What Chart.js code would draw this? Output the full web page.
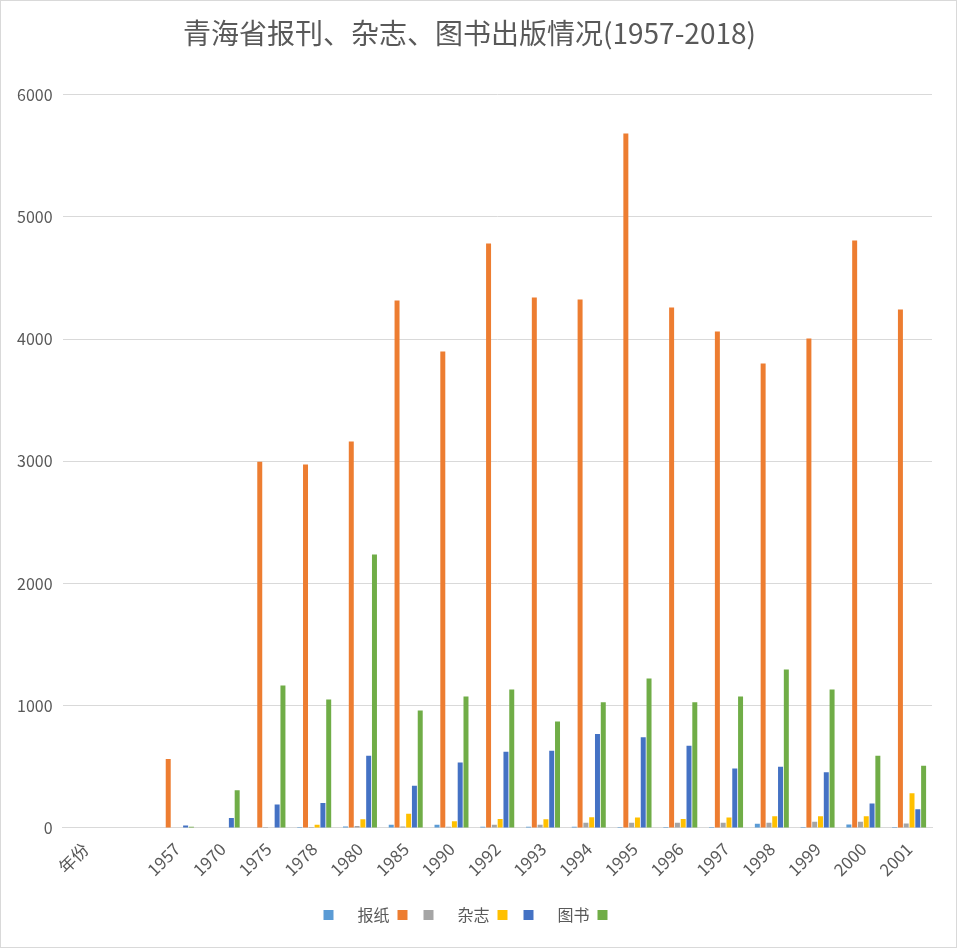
<!DOCTYPE html>
<html>
<head>
<meta charset="utf-8">
<script src="https://cdn.jsdelivr.net/npm/chart.js@4"></script>
<style>
body{margin:0;background:#fff}
#wrap{width:957px;height:948px;box-sizing:border-box;border:1px solid #d9d9d9}
</style>
</head>
<body>
<div id="wrap"><canvas id="myChart" width="955" height="946"></canvas></div>
<script>
// categories (first two are the header row and an empty row of the sheet)
var years = ['年份', '', '1957', '1970', '1975', '1978', '1980', '1985', '1990', '1992', '1993',
    '1994', '1995', '1996', '1997', '1998', '1999', '2000', '2001']

var seriesNames = ['\u3000报纸', '', '\u3000杂志', '', '\u3000图书', '']

var s1 = [null, null, 0, 0, 3, 8, 12, 25, 25, 10, 10, 10, 8, 8, 8, 33, 8, 27, 8]
var s2 = [null, null, 564, 0, 2995, 2973, 3162, 4315, 3898, 4781, 4339, 4323, 5681, 4258, 4061, 3800, 4004, 4806, 4241]
var s3 = [null, null, 0, 0, 8, 8, 15, 12, 10, 25, 25, 43, 43, 43, 43, 43, 51, 51, 35]
var s4 = [null, null, 0, 0, 3, 26, 70, 115, 55, 73, 70, 87, 85, 73, 84, 96, 96, 96, 284]
var s5 = [null, null, 20, 80, 192, 203, 590, 345, 535, 623, 632, 769, 741, 672, 485, 501, 455, 199, 153]
var s6 = [null, null, 10, 307, 1166, 1051, 2237, 961, 1076, 1133, 871, 1027, 1223, 1027, 1076, 1297, 1133, 591, 509]

var yTicks = [0, 1000, 2000, 3000, 4000, 5000, 6000]

var colors = ['#5B9BD5', '#ED7D31', '#A5A5A5', '#FFC000', '#4472C4', '#70AD47']
var allData = [s1, s2, s3, s4, s5, s6]

var datasets = []
for (var i = 0; i < 6; i++) {
    datasets.push({
        label: seriesNames[i],
        data: allData[i],
        backgroundColor: colors[i],
        borderWidth: 0,
        categoryPercentage: 0.76,
        barPercentage: 0.86
    })
}

var fontFam = '"Noto Sans CJK SC", "Noto Sans", sans-serif'
Chart.defaults.font.family = fontFam
Chart.defaults.color = '#595959'

var ctx = document.getElementById('myChart')
var myChart = new Chart(ctx, {
    type: 'bar',
    data: {
        labels: years,
        datasets: datasets
    },
    options: {
        responsive: false,
        animation: false,
        layout: {padding: {left: 6, right: 24, top: 14, bottom: 14}},
        plugins: {
            title: {
                display: true,
                text: '青海省报刊、杂志、图书出版情况(1957-2018)',
                font: {size: 28, weight: 'normal'},
                color: '#595959',
                padding: {top: 2, bottom: 44}
            },
            legend: {
                position: 'bottom',
                labels: {
                    boxWidth: 10,
                    boxHeight: 10,
                    padding: 8,
                    font: {size: 16},
                    color: '#595959'
                }
            },
            tooltip: {enabled: false}
        },
        scales: {
            x: {
                grid: {display: false},
                border: {display: true, color: '#d9d9d9', width: 1},
                afterFit: function(axis) { axis.height += 16 },
                ticks: {
                    minRotation: 45,
                    maxRotation: 45,
                    autoSkip: false,
                    font: {size: 17},
                    color: '#595959'
                }
            },
            y: {
                min: 0,
                max: 6000,
                afterBuildTicks: function(axis) {
                    axis.ticks = yTicks.map(function(v) { return {value: v} })
                },
                grid: {color: '#d9d9d9', drawTicks: false},
                border: {display: false},
                ticks: {
                    padding: 10,
                    font: {size: 16},
                    color: '#595959',
                    callback: function(v) { return String(v) }
                }
            }
        }
    }
})
</script>
</body>
</html>
